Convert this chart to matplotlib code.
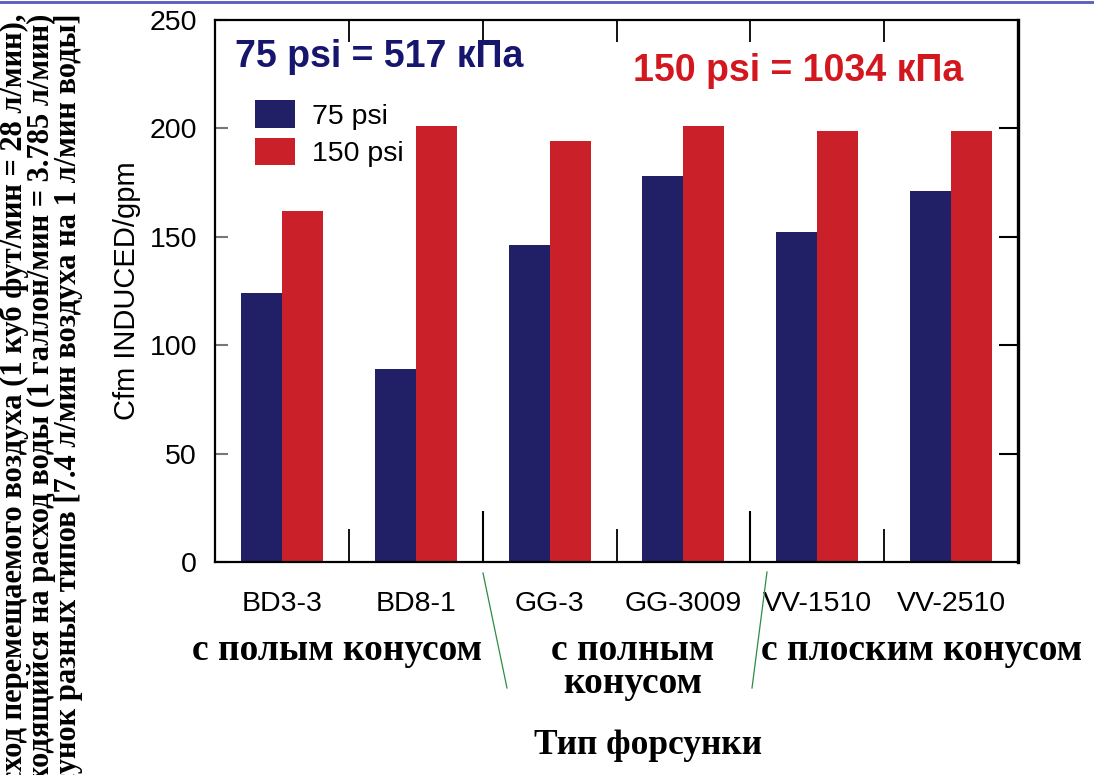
import matplotlib
matplotlib.use('Agg')
import matplotlib.pyplot as plt
import numpy as np
from matplotlib.patches import Patch
from matplotlib.lines import Line2D

plt.rcParams['font.family'] = ['Liberation Sans', 'DejaVu Sans']

# data
nozzles = ['BD3-3', 'BD8-1', 'GG-3', 'GG-3009', 'VV-1510', 'VV-2510']
cfm_75 = [124, 89, 146, 178, 152, 171]
cfm_150 = [162, 201, 194, 201, 199, 199]
series_labels = ['75 psi', '150 psi']
group_labels = ['с полым конусом', 'с полным\nконусом', 'с плоским конусом']

navy = '#211f66'
red = '#c9202a'
serif = ['Liberation Serif', 'DejaVu Serif']

fig = plt.figure(figsize=(10.94, 7.75), dpi=100)
ax = fig.add_axes([215/1094, 1 - 562/775, 803/1094, 542/775])

x = np.arange(len(nozzles)) + 0.5
w = 0.306
ax.bar(x - w/2, cfm_75, w, color=navy)
ax.bar(x + w/2, cfm_150, w, color=red)

ax.set_xlim(0, 6)
ax.set_ylim(0, 250)
ax.set_yticks([0, 50, 100, 150, 200, 250])
ax.set_xticks(x, labels=nozzles)
ax.set_xticks([1, 3, 5], minor=True)
ax.tick_params(axis='x', which='major', length=0, pad=21, labelsize=20.5)
ax.tick_params(axis='x', which='minor', direction='in', length=24, width=1.3, color='black')
ax.tick_params(axis='y', direction='in', length=9, width=1.5, color='#777777',
               pad=13, labelsize=20.5)
for s in ['left', 'bottom', 'top']:
    ax.spines[s].set_linewidth(1.6)
ax.spines['right'].set_linewidth(2.4)

# extra tick sets (longer bottom ticks, top ticks, right ticks)
sec_b = ax.secondary_xaxis('bottom')
sec_b.set_xticks([2, 4])
sec_b.tick_params(direction='in', length=37, width=1.5, labelbottom=False)
sec_b.spines['bottom'].set_visible(False)
sec_t = ax.secondary_xaxis('top')
sec_t.set_xticks([1, 2, 3, 4, 5])
sec_t.tick_params(direction='in', length=16, width=1.3, labeltop=False)
sec_t.spines['top'].set_visible(False)
sec_r = ax.secondary_yaxis('right')
sec_r.set_yticks([50, 100, 150, 200])
sec_r.tick_params(direction='in', length=14, width=1.5, labelright=False)
sec_r.spines['right'].set_visible(False)

ax.set_ylabel('Cfm INDUCED/gpm', fontsize=21, labelpad=6)

handles = [Patch(facecolor=navy, label=series_labels[0]),
           Patch(facecolor=red, label=series_labels[1])]
ax.legend(handles=handles, loc='upper left', bbox_to_anchor=(0.05, 0.852),
          frameon=False, fontsize=20.5, handlelength=1.4, handleheight=1.1,
          handletextpad=0.6, labelspacing=0.3, borderpad=0, borderaxespad=0)

ax.text(0.025, 0.932, '75 psi = 517 кПа', transform=ax.transAxes, fontsize=27,
        fontweight='bold', color='#17166e', ha='left', va='center')
ax.text(0.52, 0.905, '150 psi = 1034 кПа', transform=ax.transAxes, fontsize=27,
        fontweight='bold', color='#d3171f', ha='left', va='center')

# group captions under the tick labels
fig.text(337/1094, 1 - 650/775, group_labels[0], family=serif, fontweight='bold',
         fontsize=27, ha='center', va='center')
fig.text(633/1094, 1 - 667/775, group_labels[1], family=serif, fontweight='bold',
         fontsize=27, ha='center', va='center', linespacing=0.92)
fig.text(922/1094, 1 - 650/775, group_labels[2], family=serif, fontweight='bold',
         fontsize=27, ha='center', va='center')
fig.text(648/1094, 1 - 745/775, 'Тип форсунки', family=serif, fontweight='bold',
         fontsize=25.5, ha='center', va='center')

# thin green separators
fig.add_artist(Line2D([483/1094, 507/1094], [1 - 573/775, 1 - 688/775],
                      color='#2e8b45', lw=0.9))
fig.add_artist(Line2D([767/1094, 752/1094], [1 - 572/775, 1 - 688/775],
                      color='#2e8b45', lw=0.9))

# slide header rule at the very top
fig.add_artist(Line2D([0, 1], [1 - 2/775, 1 - 2/775], color='#5a5ac0', lw=2))

# long rotated caption on the left, clipped by the figure edge as in the slide
side_text = ('Расход перемещаемого воздуха (1 куб фут/мин = 28 л/мин),\n'
             'приходящийся на расход воды (1 галлон/мин = 3.785 л/мин)\n'
             'для форсунок разных типов [7.4 л/мин воздуха на 1 л/мин воды]')
fig.text(41/1094, 1 - 14/775, side_text, family=serif, fontweight='bold',
         fontsize=22, rotation=90, rotation_mode='anchor', ha='right', va='center',
         multialignment='right', linespacing=0.9)

fig.savefig('out.png', dpi=100)
